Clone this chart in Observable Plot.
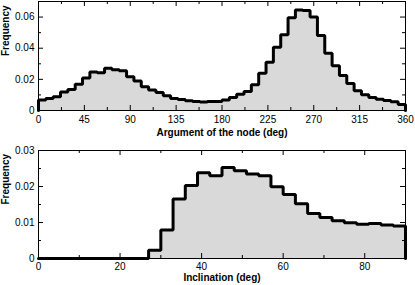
<!DOCTYPE html>
<html><head><meta charset="utf-8">
<script src="https://cdn.jsdelivr.net/npm/d3@7"></script>
<script src="https://cdn.jsdelivr.net/npm/@observablehq/plot@0.6"></script>
<style>
body{margin:0;background:#fff;}
#chart{width:415px;height:285px;}
#chart svg{display:block;}
</style></head><body><div id="chart"></div>
<script>
// ---- data ----
const nodeBinWidth = 7.2;
const nodeFreq = [0.0067,0.0077,0.0089,0.0119,0.0135,0.0169,0.0208,0.0247,0.0243,0.0272,
  0.0261,0.0256,0.0217,0.0190,0.0153,0.0131,0.0116,0.0095,0.0077,0.0071,
  0.0063,0.0057,0.0054,0.0058,0.0058,0.0068,0.0083,0.0105,0.0122,0.0166,
  0.0239,0.0310,0.0406,0.0486,0.0595,0.0645,0.0643,0.0600,0.0482,0.0368,
  0.0288,0.0224,0.0174,0.0127,0.0101,0.0084,0.0073,0.0065,0.0056,0.0038];
const nodeXTicks = [0,45,90,135,180,225,270,315,360];
const nodeXMinor = [22.5,67.5,112.5,157.5,202.5,247.5,292.5,337.5];
const nodeYTicks = [0,0.02,0.04,0.06];
const nodeYMinor = [0.01,0.03,0.05];
const nodeXLabel = "Argument of the node (deg)";

const incBinWidth = 3;
const incFreq = [0,0,0,0,0,0,0,0,0,0.0023,
  0.0079,0.0165,0.0203,0.0238,0.0230,0.0253,0.0244,0.0235,0.0230,0.0199,
  0.0178,0.0152,0.0125,0.0114,0.0105,0.0099,0.0095,0.0097,0.0093,0.0090];
const incXTicks = [0,20,40,60,80];
const incXMinor = [10,30,50,70];
const incYTicks = [0,0.01,0.02,0.03];
const incYMinor = [0.005,0.015,0.025];
const incXLabel = "Inclination (deg)";
const yLabel = "Frequency";

// ---- drawing ----
const fmtY = d => d === 0 ? "0" : d.toFixed(2);

function panel({freq, binW, xMax, yMax, xTicks, xMinor, yTicks, yMinor, xLabel, height, marginTop, marginBottom, labelDy, tickPad}) {
  const marginLeft = 38, marginRight = 10, width = 415;
  const innerH = height - marginTop - marginBottom;
  const innerW = width - marginLeft - marginRight;
  const outline = [{x: 0, y: 0}, ...freq.map((f, i) => ({x: i * binW, y: f})),
    {x: freq.length * binW, y: freq[freq.length - 1]}, {x: freq.length * binW, y: 0}];
  const major = 5, minor = 3;
  return Plot.plot({
    width, height, marginLeft, marginRight, marginTop, marginBottom,
    x: {domain: [0, xMax]},
    y: {domain: [0, yMax]},
    style: {fontFamily: "'Liberation Sans', Arial, sans-serif", fontSize: "10px", color: "black", background: "white", overflow: "visible"},
    marks: [
      Plot.areaY(outline, {x: "x", y: "y", curve: "step-after", fill: "#d9d9d9"}),
      Plot.line(outline, {x: "x", y: "y", curve: "step-after", stroke: "black", strokeWidth: 3, strokeLinejoin: "miter"}),
      Plot.frame({stroke: "black"}),
      // ticks pointing inward on all four sides
      Plot.tickX(xTicks, {x: d => d, insetTop: innerH - major, stroke: "black"}),
      Plot.tickX(xTicks, {x: d => d, insetBottom: innerH - major, stroke: "black"}),
      Plot.tickX(xMinor, {x: d => d, insetTop: innerH - minor, stroke: "black"}),
      Plot.tickX(xMinor, {x: d => d, insetBottom: innerH - minor, stroke: "black"}),
      Plot.tickY(yTicks, {y: d => d, insetRight: innerW - major, stroke: "black"}),
      Plot.tickY(yTicks, {y: d => d, insetLeft: innerW - major, stroke: "black"}),
      Plot.tickY(yMinor, {y: d => d, insetRight: innerW - minor, stroke: "black"}),
      Plot.tickY(yMinor, {y: d => d, insetLeft: innerW - minor, stroke: "black"}),
      Plot.axisX(xTicks, {tickSize: 0, tickPadding: tickPad, tickFormat: d => String(d), label: null}),
      Plot.axisY(yTicks, {tickSize: 0, tickPadding: 4, tickFormat: fmtY, label: null}),
      Plot.text([xLabel], {frameAnchor: "bottom", dy: labelDy, text: d => d, fontWeight: "bold", fontSize: 10}),
      Plot.text([yLabel], {frameAnchor: "left", dx: -32.5, rotate: -90, text: d => d, fontWeight: "bold", fontSize: 10})
    ]
  });
}

const chart = document.getElementById("chart");
chart.append(panel({freq: nodeFreq, binW: nodeBinWidth, xMax: 360, yMax: 0.07,
  xTicks: nodeXTicks, xMinor: nodeXMinor, yTicks: nodeYTicks, yMinor: nodeYMinor,
  xLabel: nodeXLabel, height: 140, marginTop: 1, marginBottom: 30, labelDy: 25.7, tickPad: 5}));
chart.append(panel({freq: incFreq, binW: incBinWidth, xMax: 90, yMax: 0.03,
  xTicks: incXTicks, xMinor: incXMinor, yTicks: incYTicks, yMinor: incYMinor,
  xLabel: incXLabel, height: 145, marginTop: 10, marginBottom: 27, labelDy: 22.3, tickPad: 4}));
</script></body></html>
